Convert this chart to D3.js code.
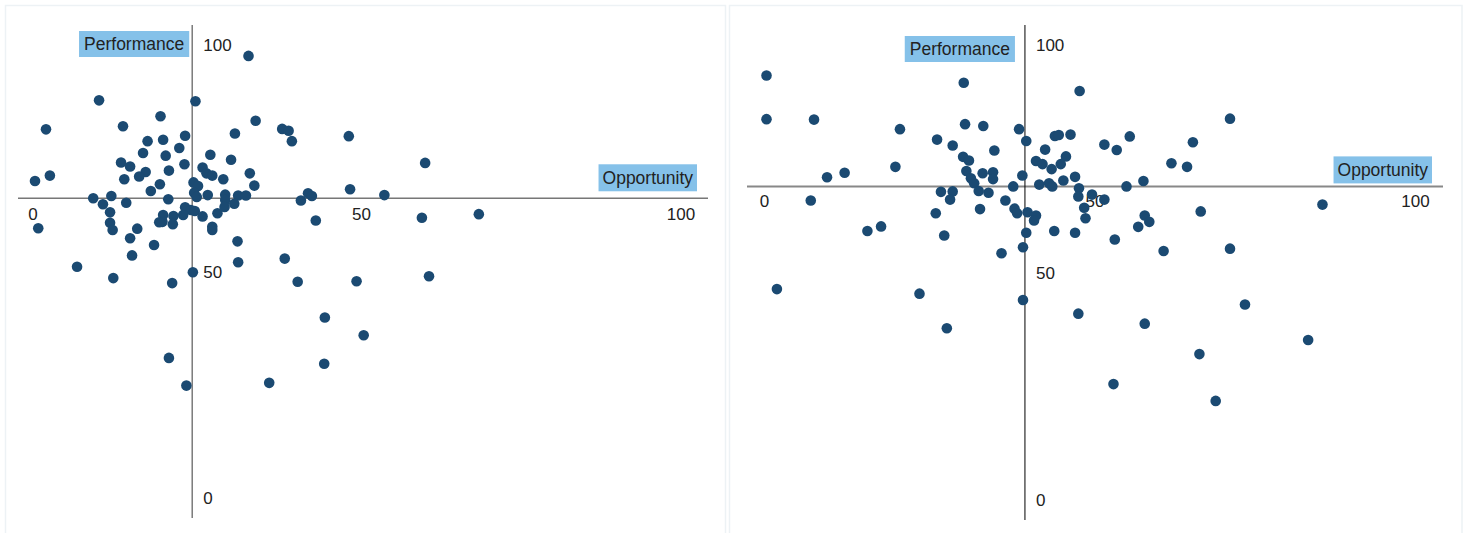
<!DOCTYPE html>
<html>
<head>
<meta charset="utf-8">
<script src="https://cdn.jsdelivr.net/npm/d3@7"></script>
<style>
  body { margin: 0; background: #fff; }
  svg { display: block; font-family: "Liberation Sans", Arial, sans-serif; }
</style>
</head>
<body>
<svg id="chart" width="1470" height="533"></svg>
<script>
// ---------------------------------------------------------------------
// Data
// ---------------------------------------------------------------------
const tickValues = [0, 50, 100];
const xTitle = 'Opportunity';
const yTitle = 'Performance';

// left quadrant
const leftX = [33.0, 9.9, 24.8, 19.4, 34.1, 1.7, 13.6, 30.9, 38.2, 39.2,
  39.7, 48.5, 23.2, 17.4, 19.8, 22.3, 16.7, 20.2, 27.1, 30.3,
  13.3, 14.7, 23.1, 25.9, 20.7, 17.1, 16.1, 13.8, 26.5, 27.4,
  29.1, 33.2, 2.3, 0.0, 24.5, 25.2, 33.9, 19.3, 17.9, 24.6,
  25.0, 26.7, 29.4, 31.4, 32.6, 9.0, 11.8, 20.6, 29.4, 41.1,
  42.2, 42.8, 48.7, 14.1, 10.5, 11.6, 11.6, 12.0, 15.8, 14.7,
  15.0, 18.4, 0.5, 6.5, 23.2, 24.1, 24.7, 22.9, 21.4, 19.8,
  19.7, 19.2, 21.3, 25.9, 28.2, 29.3, 30.8, 27.4, 27.4, 31.3,
  31.4, 38.6, 43.4, 24.4, 60.3, 54.0, 59.8, 68.6, 12.1, 21.2,
  40.6, 49.7, 60.9, 44.8, 50.8, 20.7, 44.7, 23.4, 36.2];
const leftY = [97.6, 87.8, 87.6, 84.3, 83.3, 81.4, 82.1, 80.5, 81.5, 81.1,
  78.8, 79.9, 80.0, 78.8, 79.1, 77.3, 76.2, 75.6, 75.8, 74.7,
  74.1, 73.2, 73.7, 73.0, 72.3, 72.0, 71.0, 70.4, 71.7, 71.2,
  70.4, 71.7, 71.2, 70.0, 69.7, 68.9, 69.0, 69.3, 67.8, 67.4,
  66.5, 66.9, 67.0, 66.8, 66.8, 66.2, 66.7, 66.0, 65.8, 65.7,
  67.3, 66.7, 68.2, 65.2, 64.9, 63.1, 60.8, 59.2, 59.5, 57.4,
  53.6, 55.9, 59.6, 51.1, 64.2, 63.6, 63.4, 62.5, 62.3, 62.5,
  61.0, 60.9, 60.5, 62.2, 62.9, 64.3, 65.0, 59.9, 59.2, 56.7,
  52.1, 52.9, 61.3, 49.9, 74.0, 66.9, 61.9, 62.7, 48.6, 47.5,
  47.8, 47.9, 49.0, 39.9, 36.0, 31.0, 29.7, 24.9, 25.5];
const leftCross = { x: 24.3, y: 66.2 };

// right quadrant
const rightX = [0.0, 0.0, 7.3, 30.3, 48.1, 20.5, 30.5, 33.3, 38.8, 39.9,
  26.2, 28.6, 35.0, 42.8, 44.3, 44.9, 46.7, 30.2, 31.1, 41.4,
  42.4, 43.8, 46.0, 45.2, 19.8, 12.0, 9.3, 30.7, 33.2, 34.8,
  34.8, 31.4, 31.9, 32.6, 34.1, 37.9, 39.3, 41.9, 43.4, 43.9,
  45.6, 47.4, 48.0, 47.9, 50.0, 26.8, 28.6, 28.2, 6.8, 36.7,
  38.1, 38.5, 40.1, 41.4, 41.1, 26.0, 32.8, 48.8, 49.0, 15.5,
  17.6, 27.3, 39.9, 44.2, 47.4, 36.1, 39.4, 51.9, 53.8, 55.8,
  65.5, 71.2, 62.2, 64.6, 55.3, 57.9, 51.9, 85.4, 66.7, 58.1,
  58.8, 57.1, 53.5, 61.0, 71.2, 1.6, 23.5, 27.7, 39.4, 47.9,
  58.1, 73.5, 66.5, 53.3, 69.0, 83.2];
const rightY = [93.4, 83.8, 83.7, 91.8, 90.0, 81.6, 82.7, 82.3, 81.6, 79.0,
  79.3, 78.0, 76.9, 77.1, 80.1, 80.3, 80.4, 75.5, 74.7, 74.6,
  73.9, 72.8, 75.6, 73.9, 73.3, 72.0, 71.0, 72.4, 71.9, 72.1,
  70.6, 70.8, 69.7, 68.0, 67.6, 69.0, 71.4, 69.4, 69.7, 69.0,
  70.3, 71.1, 68.6, 66.8, 67.2, 67.8, 67.9, 66.1, 65.9, 65.9,
  64.1, 63.1, 63.3, 62.6, 61.5, 63.1, 64.0, 64.3, 62.0, 59.2,
  60.2, 58.2, 58.8, 59.2, 58.8, 54.3, 55.6, 78.2, 77.0, 80.0,
  78.7, 83.9, 74.1, 73.3, 69.0, 70.2, 66.1, 65.0, 63.5, 62.6,
  61.2, 60.1, 57.3, 54.8, 55.3, 46.4, 45.4, 37.8, 44.0, 41.0,
  38.8, 43.0, 32.1, 25.5, 21.8, 35.2];
const rightCross = { x: 39.7, y: 69.0 };

// ---------------------------------------------------------------------
// Layout
// ---------------------------------------------------------------------
const panels = [
  {
    xs: leftX, ys: leftY, cross: leftCross,
    frame: [5.5, 5.5, 720, 540],
    xRange: [35, 682], yRange: [498.5, 45],
    hLine: [18, 708], vLine: [25, 518],
    vColor: '#7a7a7a', vWidth: 1.5, hColor: '#777', hWidth: 1.6,
    xLabelDy: 16, xLabelShift: [-2, 3, -1],
    perf: { gap: 3, top: 31 }, opp: { gap: 11, lift: 7 }
  },
  {
    xs: rightX, ys: rightY, cross: rightCross,
    frame: [729.5, 5.5, 732.5, 540],
    xRange: [766.5, 1417.5], yRange: [500, 45.5],
    hLine: [747, 1443], vLine: [25, 520],
    vColor: '#000', vWidth: 1, hColor: '#888', hWidth: 2,
    xLabelDy: 14.5, xLabelShift: [-2, 3, -2],
    perf: { gap: 10, top: 36 }, opp: { gap: 11, lift: 3 }
  }
];

const svg = d3.select('#chart');
const dotColor = '#1b4a72';
const boxColor = '#85c1e9';
const textColor = '#222';

function drawPanel(p) {
  const g = svg.append('g');
  const x = d3.scaleLinear().domain([0, 100]).range(p.xRange);
  const y = d3.scaleLinear().domain([0, 100]).range(p.yRange);
  const cx = x(p.cross.x), cy = y(p.cross.y);

  g.append('rect')
    .attr('x', p.frame[0]).attr('y', p.frame[1])
    .attr('width', p.frame[2]).attr('height', p.frame[3])
    .attr('fill', 'none').attr('stroke', '#edf2f5').attr('stroke-width', 1.5);

  // crossing axes
  g.append('line')
    .attr('x1', p.hLine[0]).attr('x2', p.hLine[1])
    .attr('y1', cy).attr('y2', cy)
    .attr('stroke', p.hColor).attr('stroke-width', p.hWidth);
  g.append('line')
    .attr('x1', cx).attr('x2', cx)
    .attr('y1', p.vLine[0]).attr('y2', p.vLine[1])
    .attr('stroke', p.vColor).attr('stroke-width', p.vWidth);

  // tick labels
  g.selectAll('.xt').data(tickValues).join('text')
    .attr('x', (d, i) => x(d) + p.xLabelShift[i]).attr('y', cy + p.xLabelDy)
    .attr('text-anchor', 'middle').attr('dy', '0.35em')
    .attr('font-size', 17).attr('fill', textColor)
    .text(d => d);
  g.selectAll('.yt').data(tickValues).join('text')
    .attr('x', cx + 11).attr('y', d => y(d))
    .attr('dy', '0.35em')
    .attr('font-size', 17).attr('fill', textColor)
    .text(d => d);

  // points
  g.selectAll('circle').data(p.xs.map((v, i) => [v, p.ys[i]])).join('circle')
    .attr('cx', d => x(d[0])).attr('cy', d => y(d[1]))
    .attr('r', 5.3).attr('fill', dotColor);

  // axis title boxes
  const perfRight = cx - p.perf.gap;
  const perf = g.append('g');
  const perfText = perf.append('text')
    .attr('text-anchor', 'end').attr('x', perfRight - 5).attr('y', p.perf.top + 13)
    .attr('dy', '0.35em').attr('font-size', 17.5).attr('fill', textColor)
    .text(yTitle);
  const pw = perfText.node().getComputedTextLength() + 10;
  perf.insert('rect', 'text')
    .attr('x', perfRight - pw).attr('y', p.perf.top)
    .attr('width', pw).attr('height', 26).attr('fill', boxColor);

  const oppRight = p.hLine[1] - p.opp.gap;
  const oppBottom = cy - p.opp.lift;
  const opp = g.append('g');
  const oppText = opp.append('text')
    .attr('text-anchor', 'end').attr('x', oppRight - 4).attr('y', oppBottom - 13.5)
    .attr('dy', '0.35em').attr('font-size', 17.5).attr('fill', textColor)
    .text(xTitle);
  const ow = oppText.node().getComputedTextLength() + 8;
  opp.insert('rect', 'text')
    .attr('x', oppRight - ow).attr('y', oppBottom - 27)
    .attr('width', ow).attr('height', 27).attr('fill', boxColor);
}

panels.forEach(drawPanel);
</script>
</body>
</html>
